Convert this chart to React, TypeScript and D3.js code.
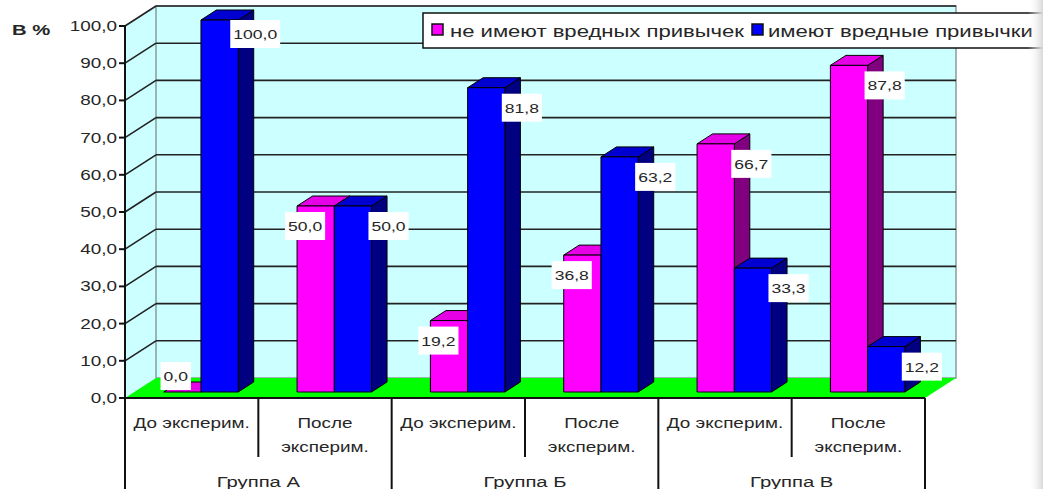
import React from "react";
import * as d3 from "d3";

const categories = ["До эксперим.", "После эксперим.", "До эксперим.", "После эксперим.", "До эксперим.", "После эксперим."];
const groups = ["Группа А", "Группа Б", "Группа В"];
const seriesNames = ["не имеют вредных привычек", "имеют вредные привычки"];
const noHabits = [0.0, 50.0, 19.2, 36.8, 66.7, 87.8];
const withHabits = [100.0, 50.0, 81.8, 63.2, 33.3, 12.2];
const yTicks = [0, 10, 20, 30, 40, 50, 60, 70, 80, 90, 100];
const yAxisTitle = "В %";

const W = 1043;
const H = 489;
const FONT = "'Liberation Sans', Arial, sans-serif";
const SX = 1.35; // horizontal stretch of the reference text
const TXT = "#262626";

const seriesColors = [
  { front: "#ff00ff", side: "#800080", top: "#e600e6" },
  { front: "#0000ff", side: "#000080", top: "#0000d0" },
];

const fmt = (v: number) => d3.format(".1f")(v).replace(".", ",");

function wrap(label: string): string[] {
  if (label.length <= 12) return [label];
  const parts = label.split(" ");
  return [parts[0], parts.slice(1).join(" ")];
}

export default function App() {
  const series = [noHabits, withHabits];
  const x = d3.scaleBand<number>().domain(categories.map((_, i) => i)).range([125, 925]).padding(0);
  const xs = d3.scaleBand<number>().domain([0, 1]).range([0, x.bandwidth()]).paddingInner(0).paddingOuter(0.79);
  const y = d3.scaleLinear().domain([0, 100]).range([398, 26]);
  const D = { dx: 31, dy: -20 };
  const f0 = 0.3;
  const fd = 0.5;
  const fx = f0 * D.dx, fy = f0 * D.dy;
  const sx = fd * D.dx, sy = fd * D.dy;
  const w = xs.bandwidth();
  const x0 = x.range()[0], x1 = x.range()[1];
  const yb = y(0), yt = y(100);

  const bars: React.ReactNode[] = [];
  const labels: React.ReactNode[] = [];
  categories.forEach((_, i) => {
    series.forEach((vals, s) => {
      const v = vals[i];
      const c = seriesColors[s];
      const xl = (x(i) as number) + (xs(s) as number) + fx;
      const top = y(v) + fy;
      const bot = yb + fy;
      bars.push(
        <g key={`b${i}-${s}`} stroke="#000" strokeWidth={1} strokeLinejoin="round">
          <polygon points={`${xl + w},${top} ${xl + w + sx},${top + sy} ${xl + w + sx},${bot + sy} ${xl + w},${bot}`} fill={c.side} />
          <polygon points={`${xl},${top} ${xl + sx},${top + sy} ${xl + w + sx},${top + sy} ${xl + w},${top}`} fill={c.top} />
          <rect x={xl} y={top} width={w} height={Math.max(0, bot - top)} fill={c.front} />
        </g>
      );
      let lx: number, ly: number;
      if (v === 0) {
        lx = xl + 12; ly = top - 16;
      } else if (s === 0 && series[1][i] >= v) {
        lx = xl + 8; ly = top + 20;
      } else {
        lx = xl + w + 17; ly = top + (v > 95 ? 14 : 20);
      }
      const txt = fmt(v);
      const tw = (txt.length - 0.5) * 13 * 0.556 * SX + 6;
      labels.push(
        <g key={`l${i}-${s}`}>
          <rect x={lx - tw / 2} y={ly - 14} width={tw} height={28} fill="#fff" />
          <text transform={`translate(${lx},${ly + 5}) scale(${SX},1)`} textAnchor="middle" fontFamily={FONT} fontSize={13} fill={TXT}>{txt}</text>
        </g>
      );
    });
  });

  return (
    <svg width={W} height={H} style={{ position: "absolute", left: 0, top: 0, background: "#fff" }}>
      <defs>
        <linearGradient id="edge" x1="0" x2="1" y1="0" y2="0">
          <stop offset="0" stopColor="#fff" stopOpacity={0} />
          <stop offset="1" stopColor="#d8d8d8" stopOpacity={1} />
        </linearGradient>
      </defs>
      {/* side wall */}
      <polygon points={`${x0},${yb} ${x0},${yt} ${x0 + D.dx},${yt + D.dy} ${x0 + D.dx},${yb + D.dy}`} fill="#ccffff" />
      {/* back wall */}
      <rect x={x0 + D.dx} y={yt + D.dy} width={x1 - x0} height={yb - yt} fill="#ccffff" stroke="#8a9a9a" strokeWidth={1.5} />
      {/* floor */}
      <polygon points={`${x0},${yb} ${x1},${yb} ${x1 + D.dx},${yb + D.dy} ${x0 + D.dx},${yb + D.dy}`} fill="#00ff00" />
      {/* gridlines */}
      {yTicks.filter((t) => t > 0).map((t) => (
        <g key={`g${t}`} stroke="#222" strokeWidth={1.6} fill="none">
          <line x1={x0} y1={y(t)} x2={x0 + D.dx} y2={y(t) + D.dy} />
          <line x1={x0 + D.dx} y1={y(t) + D.dy} x2={x1 + D.dx} y2={y(t) + D.dy} />
        </g>
      ))}
      {/* y axis */}
      <line x1={x0} y1={yt} x2={x0} y2={H} stroke="#111" strokeWidth={2} />
      {yTicks.map((t) => (
        <g key={`t${t}`}>
          <line x1={x0 - 6} y1={y(t)} x2={x0} y2={y(t)} stroke="#111" strokeWidth={2} />
          <text transform={`translate(${x0 - 8},${y(t) + 5}) scale(${SX},1)`} textAnchor="end" fontFamily={FONT} fontSize={14} fill={TXT}>{fmt(t)}</text>
        </g>
      ))}
      <text transform={`translate(12,35) scale(${SX},1)`} fontFamily={FONT} fontSize={15} fontWeight="bold" fill={TXT}>{yAxisTitle}</text>
      {bars}
      {labels}
      {/* category axis */}
      <line x1={x0} y1={yb} x2={x1} y2={yb} stroke="#111" strokeWidth={2} />
      {categories.map((c, i) => {
        const xr = (x(i) as number) + x.bandwidth();
        const outer = i % 2 === 1;
        const lines = wrap(c);
        const cx = (x(i) as number) + x.bandwidth() / 2;
        return (
          <g key={`c${i}`}>
            <line x1={xr} y1={yb} x2={xr} y2={outer ? H : 457} stroke="#111" strokeWidth={2} />
            {lines.map((ln, k) => (
              <text key={k} transform={`translate(${cx},${428 + k * 24}) scale(${SX},1)`} textAnchor="middle" fontFamily={FONT} fontSize={14} fill={TXT}>{ln}</text>
            ))}
          </g>
        );
      })}
      {groups.map((g, gi) => {
        const cx = (x(gi * 2) as number) + x.bandwidth();
        return (
          <text key={`gr${gi}`} transform={`translate(${cx},487) scale(${SX},1)`} textAnchor="middle" fontFamily={FONT} fontSize={15} fill={TXT}>{g}</text>
        );
      })}
      {/* legend */}
      <g>
        <rect x={423} y={13} width={640} height={35} fill="#fff" stroke="#111" strokeWidth={1.5} />
        <rect x={432} y={24} width={11} height={11} fill={seriesColors[0].front} stroke="#111" strokeWidth={1.5} />
        <text transform={`translate(450,37) scale(1.38,1)`} fontFamily={FONT} fontSize={16} fill={TXT}>{seriesNames[0]}</text>
        <rect x={752} y={24} width={11} height={11} fill={seriesColors[1].front} stroke="#111" strokeWidth={1.5} />
        <text transform={`translate(768,37) scale(1.38,1)`} fontFamily={FONT} fontSize={16} fill={TXT}>{seriesNames[1]}</text>
      </g>
      <rect x={1028} y={0} width={15} height={H} fill="url(#edge)" />
    </svg>
  );
}
